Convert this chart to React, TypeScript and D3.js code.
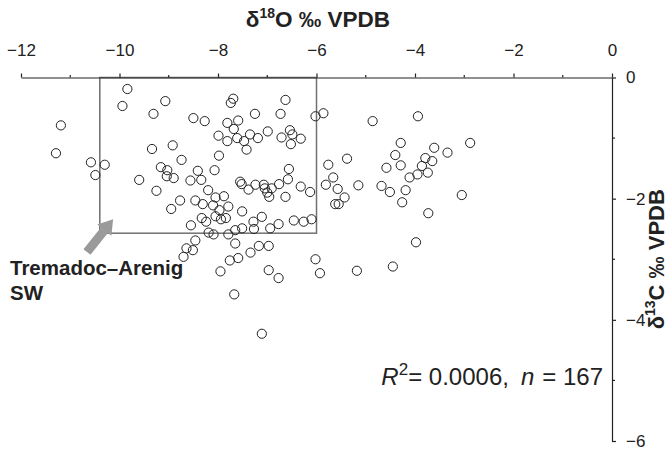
import React, { useEffect, useRef } from 'react';
import * as d3 from 'd3';

// δ18O (x) and δ13C (y) values, one pair per sample
const d18O = [-11.19, -11.29, -10.58, -10.30, -10.49, -9.84, -9.94, -9.07, -9.31, -9.34, -8.92, -8.74, -9.16, -9.03, -9.04, -8.90, -9.60, -9.25, -8.77, -8.95,
  -8.50, -8.27, -7.69, -7.74, -7.25, -6.63, -6.73, -6.02, -5.86, -7.81, -7.59, -7.68, -7.99, -7.81, -7.61, -7.47, -7.35, -7.19, -7.42, -6.99,
  -6.54, -6.71, -6.49, -6.32, -6.52, -7.98, -8.07, -8.41, -8.56, -8.34, -8.20, -8.05, -7.88, -7.55, -7.52, -7.38, -7.24, -7.07, -7.05, -6.91,
  -7.00, -6.96, -6.76, -6.56, -6.58, -6.32, -6.13, -6.63, -5.76, -5.66, -5.81, -5.57, -8.46, -8.31, -8.10, -7.97, -7.79, -7.51, -8.05, -8.33,
  -8.24, -7.94, -7.84, -8.55, -7.28, -7.11, -7.27, -7.51, -7.65, -7.79, -6.94, -6.77, -6.46, -6.26, -6.10, -8.19, -8.09, -7.65, -7.34, -7.17,
  -6.97, -8.46, -8.64, -8.51, -8.70, -7.76, -7.59, -7.95, -6.97, -6.77, -6.02, -5.93, -7.67, -7.11, -4.86, -3.94, -4.29, -2.88, -4.40, -3.61,
  -3.34, -5.38, -4.58, -4.29, -3.79, -3.86, -3.65, -3.74, -3.95, -4.11, -5.15, -4.68, -4.51, -4.19, -3.05, -5.43, -5.62, -5.55, -4.26, -3.73,
  -5.18, -4.45, -3.98];
const d13C = [-0.79, -1.25, -1.40, -1.44, -1.61, -0.19, -0.47, -0.39, -0.60, -1.18, -1.12, -1.36, -1.48, -1.53, -1.63, -1.66, -1.69, -1.87, -2.03, -2.17,
  -0.67, -0.72, -0.35, -0.42, -0.60, -0.37, -0.60, -0.64, -0.59, -0.75, -0.71, -0.85, -0.96, -1.05, -1.00, -1.05, -0.94, -1.00, -1.19, -0.89,
  -0.87, -0.99, -0.94, -1.01, -1.10, -1.29, -1.53, -1.54, -1.70, -1.69, -1.86, -1.98, -1.96, -1.72, -1.76, -1.85, -1.77, -1.77, -1.83, -1.83,
  -1.90, -1.97, -1.76, -1.51, -1.68, -1.80, -1.89, -1.97, -1.44, -1.65, -1.77, -1.84, -2.03, -2.09, -2.11, -2.19, -2.13, -2.21, -2.29, -2.32,
  -2.38, -2.34, -2.32, -2.44, -2.38, -2.30, -2.50, -2.49, -2.52, -2.59, -2.49, -2.42, -2.36, -2.38, -2.34, -2.56, -2.59, -2.74, -2.89, -2.78,
  -2.78, -2.69, -2.82, -2.85, -2.96, -3.02, -2.98, -3.20, -3.18, -3.31, -3.00, -3.23, -3.58, -4.23, -0.72, -0.64, -1.08, -1.08, -1.28, -1.16,
  -1.24, -1.34, -1.49, -1.45, -1.33, -1.46, -1.38, -1.57, -1.60, -1.65, -1.78, -1.79, -1.89, -1.86, -1.94, -1.98, -2.09, -2.09, -2.06, -2.24,
  -3.19, -3.12, -2.72];

const xTicks = [-12, -10, -8, -6, -4, -2, 0];
const xMinor = [-11, -9, -7, -5, -3, -1];
const yTicks = [0, -2, -4, -6];
const yMinor = [-1, -3, -5];

// Tremadoc–Arenig SW field
const boxO = [-10.4, -6];
const boxC = [0, -2.57];
// arrow tail / tip in data units
const arrowFrom = [-10.66, -2.88];
const arrowTo = [-10.13, -2.34];

const W = 668, H = 451;
const font = '"Liberation Sans", Arial, sans-serif';

const x = d3.scaleLinear().domain([-12, 0]).range([21, 612]);
const y = d3.scaleLinear().domain([0, -6]).range([77.5, 441]);

const points = d3.zip(d18O, d13C);

function arrowPath() {
  const [x0, y0] = [x(arrowFrom[0]), y(arrowFrom[1])];
  const [x1, y1] = [x(arrowTo[0]), y(arrowTo[1])];
  const len = Math.hypot(x1 - x0, y1 - y0);
  const ux = (x1 - x0) / len, uy = (y1 - y0) / len;
  const nx = -uy, ny = ux;
  const sw = 4.5, hw = 9, hl = 14;
  const bx = x1 - ux * hl, by = y1 - uy * hl;
  const p = d3.path();
  p.moveTo(x0 + nx * sw, y0 + ny * sw);
  p.lineTo(bx + nx * sw, by + ny * sw);
  p.lineTo(bx + nx * hw, by + ny * hw);
  p.lineTo(x1, y1);
  p.lineTo(bx - nx * hw, by - ny * hw);
  p.lineTo(bx - nx * sw, by - ny * sw);
  p.lineTo(x0 - nx * sw, y0 - ny * sw);
  p.closePath();
  return p.toString();
}

export default function App() {
  const xRef = useRef<SVGGElement>(null);
  const yRef = useRef<SVGGElement>(null);

  useEffect(() => {
    const gx = d3.select(xRef.current);
    gx.selectAll('*').remove();
    gx.call(d3.axisTop(x).tickValues(xTicks).tickSize(4).tickSizeOuter(0).tickPadding(18).tickFormat(d3.format('d')) as any);
    gx.selectAll('.tick text').attr('font-size', 17).attr('font-family', font).attr('fill', '#222');
    gx.append('g').selectAll('line').data(xMinor).join('line')
      .attr('x1', d => x(d)).attr('x2', d => x(d)).attr('y1', 0).attr('y2', -2.5).attr('stroke', '#222');
    gx.selectAll('path.domain, line').attr('stroke', '#222').attr('stroke-width', 1.2);

    const gy = d3.select(yRef.current);
    gy.selectAll('*').remove();
    gy.call(d3.axisRight(y).tickValues(yTicks).tickSize(4).tickSizeOuter(0).tickPadding(10).tickFormat(d3.format('d')) as any);
    gy.selectAll('.tick text').attr('font-size', 17).attr('font-family', font).attr('fill', '#222');
    gy.append('g').selectAll('line').data(yMinor).join('line')
      .attr('y1', d => y(d)).attr('y2', d => y(d)).attr('x1', 0).attr('x2', 3).attr('stroke', '#222');
    gy.selectAll('path.domain, line').attr('stroke', '#222').attr('stroke-width', 1.2);
  }, []);

  return (
    <svg width={W} height={H} style={{ position: 'absolute', left: 0, top: 0, background: '#fff' }}>
      <text x={318} y={27} textAnchor="middle" fontFamily={font} fontWeight="bold" fontSize={22.5} fill="#222">
        δ<tspan fontSize={14} dy={-9}>18</tspan><tspan dy={9}>O ‰ VPDB</tspan>
      </text>
      <text transform={`translate(664,${y(-3.0)}) rotate(-90)`} textAnchor="middle" fontFamily={font} fontWeight="bold" fontSize={22} fill="#222">
        δ<tspan fontSize={14} dy={-9}>13</tspan><tspan dy={9}>C ‰ VPDB</tspan>
      </text>

      <rect x={x(boxO[0])} y={y(boxC[0])} width={x(boxO[1]) - x(boxO[0])} height={y(boxC[1]) - y(boxC[0])}
        fill="none" stroke="#707070" strokeWidth={1.5} />

      <g ref={xRef} transform={`translate(0,${y(0)})`} />
      <g ref={yRef} transform={`translate(${x(0)},0)`} />

      <g>
        {points.map(([o, c], i) => (
          <circle key={i} cx={x(o)} cy={y(c)} r={4.6} fill="none" stroke="#222" strokeWidth={1} />
        ))}
      </g>

      <path d={arrowPath()} fill="#9a9a9a" />
      <text fontFamily={font} fontWeight="bold" fontSize={20.5} fill="#222">
        <tspan x={10} y={275}>Tremadoc–Arenig</tspan>
        <tspan x={10} y={300}>SW</tspan>
      </text>

      <text x={603} y={385} textAnchor="end" fontFamily={font} fontSize={24} fill="#222">
        <tspan fontStyle="italic">R</tspan><tspan fontSize={17} dy={-10}>2</tspan><tspan dy={10}>= 0.0006,</tspan>
        <tspan dx={12} fontStyle="italic">n</tspan><tspan dx={8}>= 167</tspan>
      </text>
    </svg>
  );
}
